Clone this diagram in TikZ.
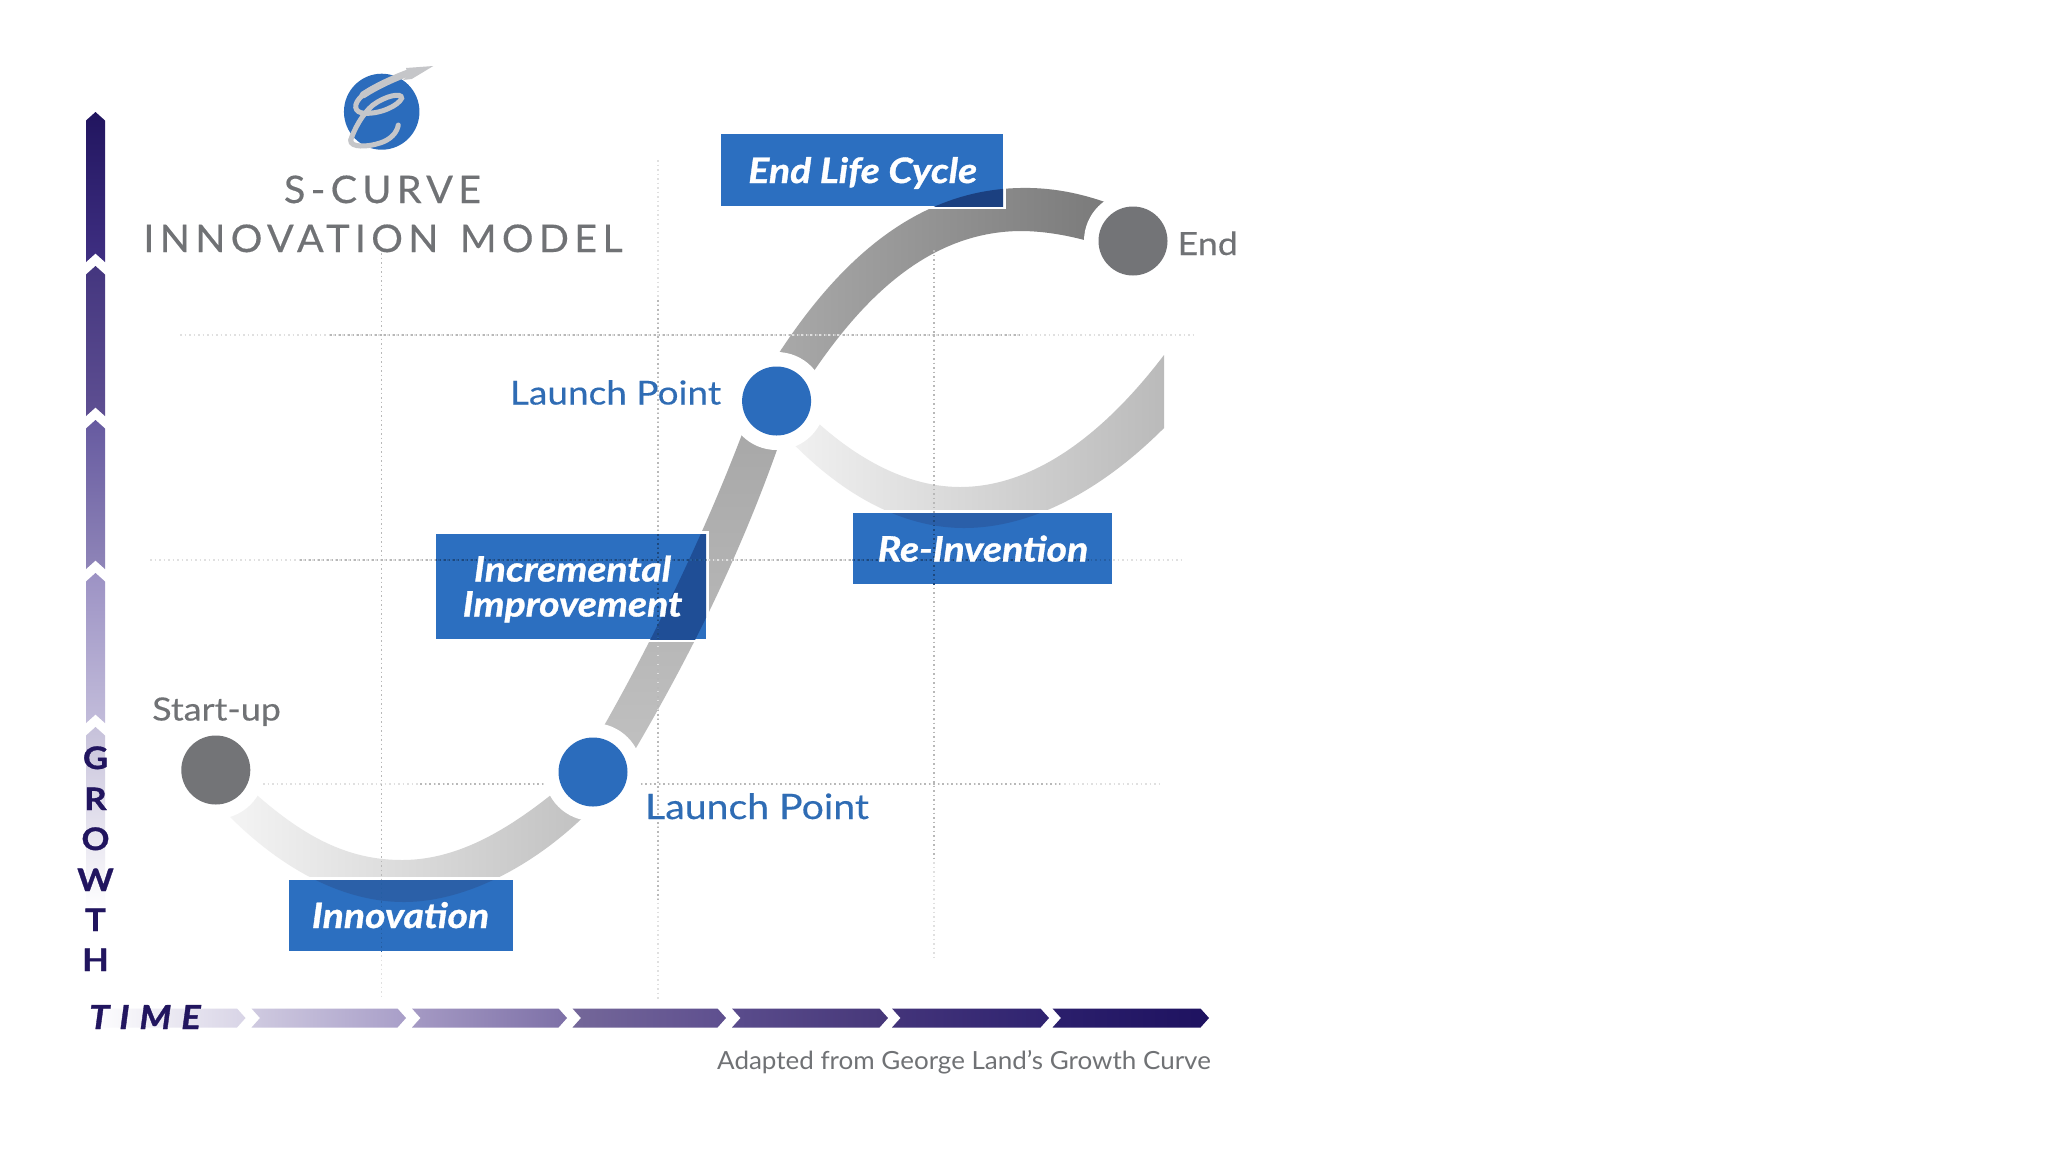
\documentclass[tikz,border=0pt]{standalone}
\usepackage{fontspec}
\usetikzlibrary{shapes.geometric}
\setmainfont{Lato}
\newfontfamily\titlefont[LetterSpace=14,FakeStretch=1.04,FakeBold=0.4]{Lato}
\newfontfamily\timefont[LetterSpace=30,FakeStretch=1.1,FakeBold=1]{Lato}
\newfontfamily\widefont[FakeStretch=1.12,FakeBold=0.3]{Lato}
\newfontfamily\adaptfont[FakeStretch=1.04]{Lato}
\newfontfamily\heavyfont[FakeStretch=1.12,FakeBold=1]{Lato}
\definecolor{boxblue}{HTML}{2C6FC0}
\definecolor{dotblue}{HTML}{2B6CBC}
\definecolor{labelblue}{HTML}{2F6CB4}
\definecolor{labelgray}{HTML}{707275}
\definecolor{dotgray}{HTML}{737477}
\definecolor{navy}{HTML}{21155F}
\definecolor{swoosh}{HTML}{C5C6C9}
\definecolor{overA}{HTML}{2B60A8}
\definecolor{overB}{HTML}{1F4E96}
\definecolor{overC}{HTML}{1B4080}
\definecolor{overD}{HTML}{2A5FA9}
\def\bandA{(225,765) .. controls (290,830) and (340,860) .. (402,860) .. controls (470,860) and (530,815) .. (590,762) -- (600,800) .. controls (545,860) and (470,902) .. (404,902) .. controls (335,902) and (265,860) .. (205,790) -- cycle}
\def\bandB{(590,750) .. controls (640,665) and (715,520) .. (765,370) -- (800,380) .. controls (750,545) and (680,675) .. (620,775) -- cycle}
\def\bandC{(765,375) .. controls (820,285) and (900,190) .. (1020,188) .. controls (1060,187) and (1100,197) .. (1140,217) -- (1140,258) .. controls (1100,243) and (1060,231) .. (1020,231) .. controls (915,232) and (845,320) .. (795,400) -- cycle}
\def\bandD{(790,395) .. controls (840,450) and (900,487) .. (960,487) .. controls (1037,487) and (1107,430) .. (1164,355) -- (1164,428) .. controls (1102,490) and (1032,528) .. (964,528) .. controls (890,528) and (820,480) .. (765,412) -- cycle}
\def\gridlines#1#2{%
  \draw[griddot,draw=#1] (180,335) -- (1195,335);
  \draw[griddot,draw=#1] (150,560) -- (1185,560);
  \draw[griddot,draw=#1] (263,784) -- (1160,784);
  \draw[griddot,draw=#1] (381.5,253) -- (381.5,1000);
  \draw[griddot,draw=#1] (658,160) -- (658,1000);
  \draw[griddot,draw=#1] (934,250) -- (934,960);
  \draw[griddot,draw=#2] (330,335) -- (1020,335);
  \draw[griddot,draw=#2] (300,560) -- (1090,560);
  \draw[griddot,draw=#2] (420,784) -- (1060,784);
  \draw[griddot,draw=#2] (381.5,253) -- (381.5,880);
  \draw[griddot,draw=#2] (658,300) -- (658,900);
  \draw[griddot,draw=#2] (934,250) -- (934,860);
}
\newcommand\whitegap[4]{\fill[white] ({#1-3},{#2-3}) rectangle ({#3+3},{#4+3});}
\newcommand\labelbox[7]{%
  \node[bluebox,minimum width={(#4-#2)*1pt},minimum height={(#5-#3)*1pt}] (#1) at ({(#2+#4)/2},{(#3+#5)/2}) {};
  \begin{scope}
    \clip (#1.south west) rectangle (#1.north east);
    \fill[#7] #6;
    \gridlines{boxblue!85!black}{boxblue!65!black}
  \end{scope}
}
\newcommand\vseg[4]{\definecolor{ca}{HTML}{#3}\definecolor{cb}{HTML}{#4}\shade[top color=ca,bottom color=cb] (86,{#1+8.5}) -- (95.5,#1) -- (105,{#1+8.5}) -- (105,#2) -- (95.5,{#2-8.5}) -- (86,#2) -- cycle;}
\newcommand\hseg[4]{\definecolor{ca}{HTML}{#3}\definecolor{cb}{HTML}{#4}\shade[left color=ca,right color=cb] (#1,1008.5) -- ({#2-8.5},1008.5) -- (#2,1018) -- ({#2-8.5},1027.5) -- (#1,1027.5) -- ({#1+8.5},1018) -- cycle;}
\tikzset{
  griddot/.style={line width=1.1pt,dash pattern=on 1.5pt off 3pt},
  bluebox/.style={fill=boxblue,inner sep=0pt,outer sep=0pt,shape=rectangle},
  boxtext/.style={text=white,anchor=base,inner sep=0pt,font=\fontsize{35}{35}\selectfont\heavyfont\bfseries\itshape},
  greytext/.style={text=labelgray,anchor=base,inner sep=0pt},
  bluetext/.style={text=labelblue,anchor=base,inner sep=0pt,font=\fontsize{35}{35}\selectfont\widefont},
  growletter/.style={text=navy,anchor=base,inner sep=0pt,font=\fontsize{31}{31}\selectfont\heavyfont\bfseries},
  halo/.style={circle,fill=white,minimum size=98pt,inner sep=0pt},
  dot/.style={circle,minimum size=69pt,inner sep=0pt},
  titletext/.style={text=labelgray,anchor=base,inner sep=0pt,font=\fontsize{38}{38}\selectfont\titlefont},
}
\begin{document}
\begin{tikzpicture}[x=1pt,y=-1pt]
\useasboundingbox (0,0) rectangle (2048,1152);
\fill[white] (0,0) rectangle (2048,1152);
% bands
\shade[left color=black!3,right color=black!25] \bandA;
\shade[top color=black!36,bottom color=black!24] \bandB;
\shade[left color=black!33,right color=black!54] \bandC;
\shade[left color=black!4,right color=black!27] \bandD;
\whitegap{288.5}{880}{512.5}{951}
\whitegap{436}{534}{706}{639}
\whitegap{720.5}{134}{1003}{206}
\whitegap{852.5}{513}{1111.5}{584}
\gridlines{black!12}{black!28}
% growth arrow
\vseg{112}{262}{21155F}{3F2F82}
\vseg{266}{416}{44367F}{5E4F92}
\vseg{420}{569}{665AA0}{8F85B8}
\vseg{573}{723}{9C92C4}{C2BCDA}
\vseg{727}{910}{C6C1DA}{FFFFFF}
% time arrow
\hseg{90}{245.5}{FFFFFF}{D8D4E6}
\hseg{251.5}{406}{CFCAE0}{A89EC8}
\hseg{412}{567}{A59AC4}{7D70A7}
\hseg{572.5}{726}{746799}{5E4F8F}
\hseg{732}{888}{5A4C8C}{463779}
\hseg{892}{1049}{43347A}{2F2370}
\hseg{1052.5}{1209}{2B1F6C}{1E1260}
% circles
\node[halo] (haloA) at (215.8,770) {};
\node[halo] (haloB) at (593,772) {};
\node[halo] (haloC) at (776.6,401) {};
\node[halo] (haloD) at (1133,241) {};
\node[dot,fill=dotgray] (startdot) at (215.8,770) {};
\node[dot,fill=dotblue] (launchA) at (593,772) {};
\node[dot,fill=dotblue] (launchB) at (776.6,401) {};
\node[dot,fill=dotgray] (enddot) at (1133,241) {};
% boxes
\labelbox{boxInno}{288.5}{880}{512.5}{951}{\bandA}{overA}
\labelbox{boxIncr}{436}{534}{706}{639}{\bandB}{overB}
\labelbox{boxEnd}{720.5}{134}{1003}{206}{\bandC}{overC}
\labelbox{boxRe}{852.5}{513}{1111.5}{584}{\bandD}{overD}
\node[boxtext] (tInno) at (400.5,928) {Innovation};
\node[boxtext] (tIncrA) at (572.5,581.5) {Incremental};
\node[boxtext] (tIncrB) at (572.5,616.5) {Improvement};
\node[boxtext] (tEnd) at (862.7,183) {End Life Cycle};
\node[boxtext] (tRe) at (983,561.5) {Re-Invention};
% labels
\node[greytext,font=\fontsize{32}{32}\selectfont\widefont] (tStart) at (216.5,720.5) {Start-up};
\node[greytext,font=\fontsize{32}{32}\selectfont\widefont] (tEndLabel) at (1207.7,255) {End};
\node[bluetext,font=\fontsize{33}{33}\selectfont\widefont] (tLaunchB) at (615.5,404.5) {Launch Point};
\node[bluetext] (tLaunchA) at (757,819) {Launch Point};
\node[greytext,font=\fontsize{25}{25}\selectfont\adaptfont] (tAdapted) at (964,1069) {Adapted from George Land’s Growth Curve};
% title
\node[titletext] (tTitleA) at (382.5,203) {S-CURVE};
\node[titletext] (tTitleB) at (383,252) {INNOVATION\hspace{6pt} MODEL};
% axis text
\node[growletter] (gG) at (95.5,769) {G};
\node[growletter] (gR) at (95.5,810) {R};
\node[growletter] (gO) at (95.5,850) {O};
\node[growletter] (gW) at (95.5,891) {W};
\node[growletter] (gT) at (95.5,931) {T};
\node[growletter] (gH) at (95.5,971) {H};
\node[anchor=base,inner sep=0pt,text=navy,font=\fontsize{33}{33}\selectfont\timefont\bfseries\itshape] (tTime) at (145,1029) {TIME};
% logo
\node[ellipse,fill=dotblue,minimum width=75.5pt,minimum height=76pt,inner sep=0pt] (logo) at (381.7,111.7) {};
\draw[swoosh,line width=7pt,line cap=round] (408,73) .. controls (392,79) and (375,87) .. (363,95);
\draw[swoosh,line width=5pt,line cap=round] (363,95) .. controls (352,104) and (354,113) .. (365,113.3) .. controls (380,114) and (398,106) .. (401.7,98.3) .. controls (402,92) and (385,96) .. (373,105) .. controls (362,114) and (354,130) .. (350.7,140);
\draw[swoosh,line width=5pt,line cap=round] (350.7,140) .. controls (350,148) and (368,147) .. (380,143) .. controls (390,140) and (397,133) .. (398.3,125);
\fill[swoosh] (433.3,66) -- (406,68) -- (408,75) -- (403,80) -- (411.7,79) -- cycle;
\end{tikzpicture}
\end{document}
